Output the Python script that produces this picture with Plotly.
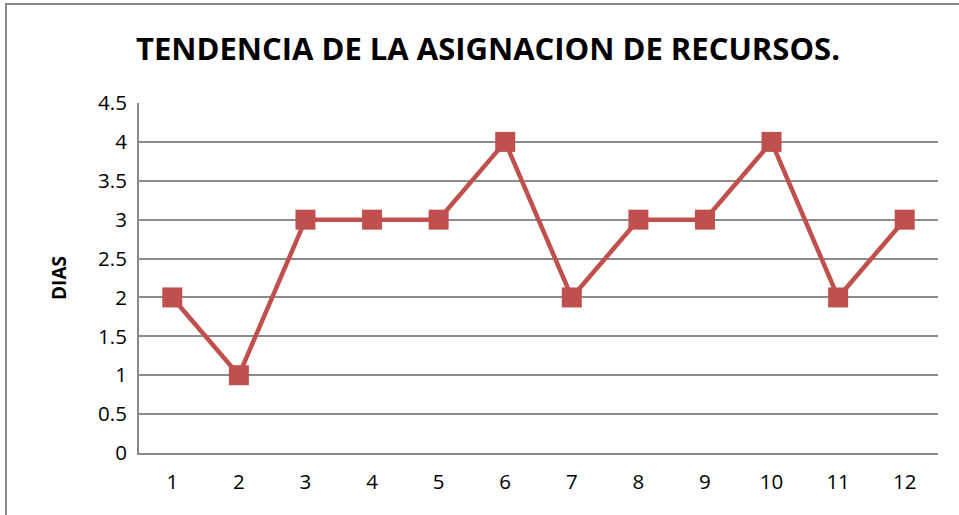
import plotly.graph_objects as go

categories = ["1", "2", "3", "4", "5", "6", "7", "8", "9", "10", "11", "12"]
dias = [2, 1, 3, 3, 3, 4, 2, 3, 3, 4, 2, 3]
y_ticks = [0, 0.5, 1, 1.5, 2, 2.5, 3, 3.5, 4, 4.5]
y_labels = ["0", "0.5", "1", "1.5", "2", "2.5", "3", "3.5", "4", "4.5"]

L, R, T, B = 139, 21, 103, 62
W, H = 959, 515
pw, ph = W - L - R, H - T - B
FONT = "Open Sans"

fig = go.Figure(go.Scatter(
    x=categories, y=dias, mode="lines+markers",
    line=dict(color="#C0504D", width=4.5),
    marker=dict(symbol="square", size=20, color="#C0504D"),
))

fig.update_layout(
    width=W, height=H,
    margin=dict(l=L, r=R, t=T, b=B),
    paper_bgcolor="white", plot_bgcolor="white",
    showlegend=False,
    title=dict(text="<b>TENDENCIA DE LA ASIGNACION DE RECURSOS.</b>",
               x=488 / W, xanchor="center", y=1 - 49 / H, yanchor="middle",
               font=dict(family=FONT, size=31, color="black")),
    font=dict(family=FONT, color="black"),
    xaxis=dict(type="category", range=[-0.5, 11.5], showgrid=False,
               showline=True, linecolor="#888888", linewidth=2,
               ticks="", tickfont=dict(size=20.5), ticklabelstandoff=9),
    yaxis=dict(range=[0, 4.5], tickvals=y_ticks, ticktext=y_labels,
               showgrid=True, gridcolor="#8c8c8c", gridwidth=1.5,
               showline=True, linecolor="#888888", linewidth=2,
               zeroline=False, ticks="", tickfont=dict(size=20.5),
               ticklabelstandoff=6,
               title=dict(text="<b>DIAS</b>", font=dict(size=19), standoff=26)),
    shapes=[dict(type="rect", xref="paper", yref="paper",
                 x0=(6 - L) / pw, x1=(W + 20 - L) / pw,
                 y0=-(B + 20) / ph, y1=(H - B - 4) / ph,
                 line=dict(color="#888888", width=2), layer="below")],
)
fig.write_html("out.html", config={"displayModeBar": False},
               post_script="document.body.style.margin='0';document.body.style.overflow='hidden';")
